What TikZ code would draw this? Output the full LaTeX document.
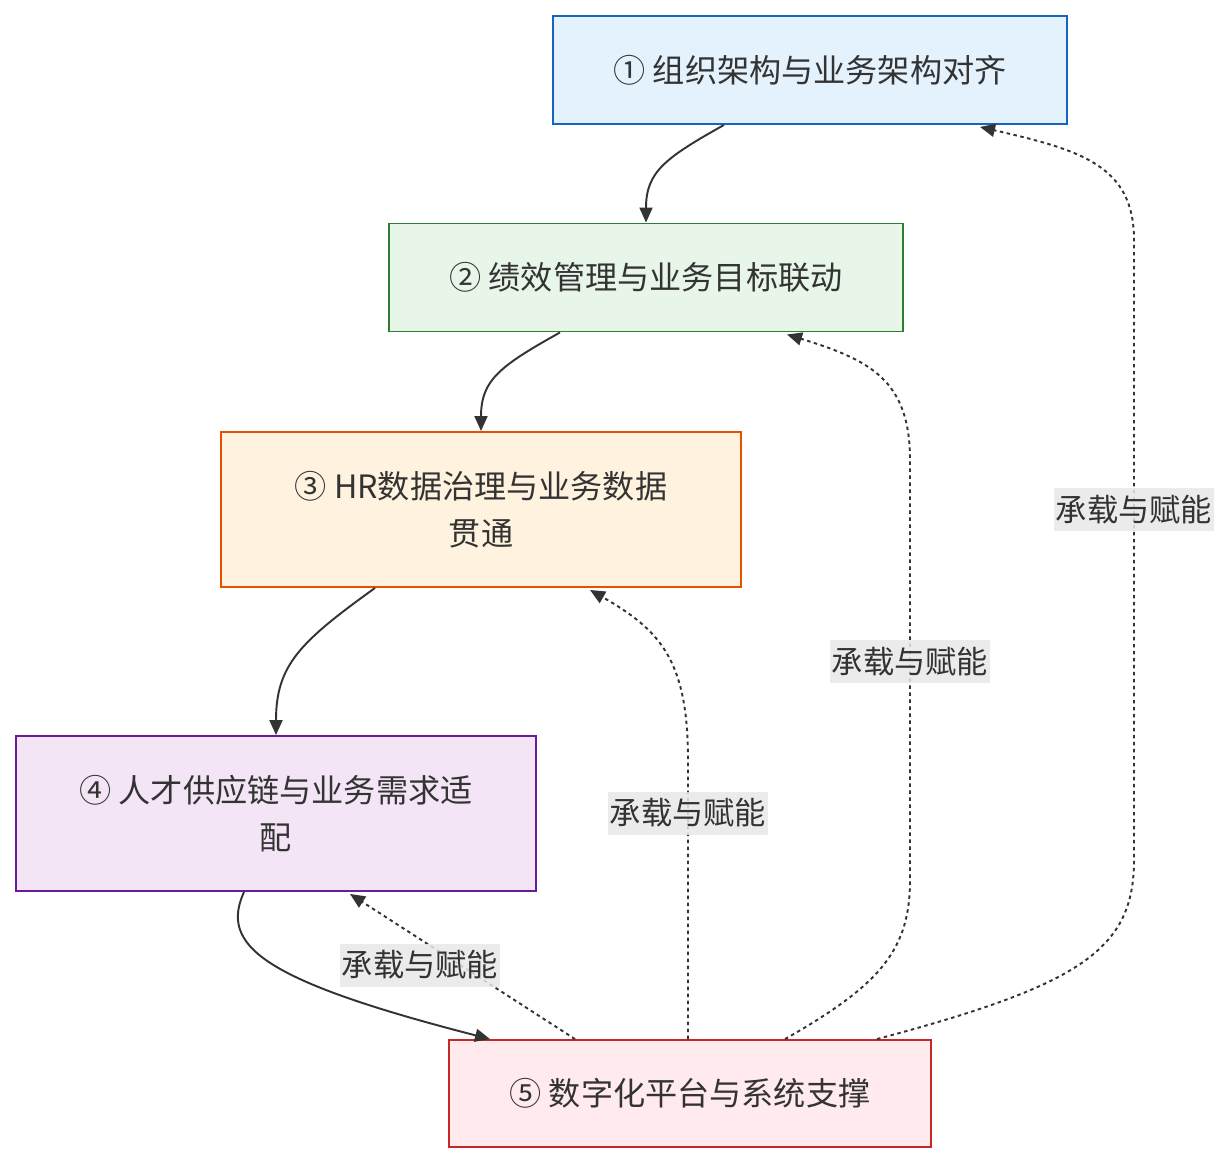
\documentclass[tikz,border=0pt]{standalone}
\usepackage{fontspec}
\setmainfont{Noto Sans CJK SC}
\usepackage{tikz}
\usetikzlibrary{positioning,arrows.meta,calc}
\definecolor{lineclr}{HTML}{333333}
\tikzset{
box/.style={
draw,
line width=1.1pt,
minimum width=10.28cm,
minimum height=2.16cm,
align=center,
text=lineclr,
font=\fontsize{18.3}{26.7}\selectfont
},
arrow/.style={
-{Triangle[length=0.3cm,width=0.26cm]},
line width=1.1pt,
draw=lineclr
},
dasharrow/.style={
arrow,
dash pattern=on 0.07cm off 0.07cm
},
lbl/.style={
fill=black!9,
fill opacity=0.85,
text opacity=1,
text=lineclr,
inner xsep=1pt,
minimum height=0.86cm,
font=\fontsize{17.8}{20}\selectfont
}
}

\begin{document}
\begin{tikzpicture}[x=0.02cm,y=-0.02cm]
\useasboundingbox (0,0) rectangle (1230,1164);
\node[box,fill={rgb,255:red,227;green,242;blue,253},draw={rgb,255:red,21;green,101;blue,192}](a) at (810,70){① 组织架构与业务架构对齐};
\node[box,fill={rgb,255:red,232;green,245;blue,233},draw={rgb,255:red,46;green,125;blue,50}](b) at (646,277.5){② 绩效管理与业务目标联动};
\node[box,minimum width=10.4cm,minimum height=3.1cm,fill={rgb,255:red,255;green,243;blue,224},draw={rgb,255:red,230;green,81;blue,0}](c) at (481,509.5){③ HR数据治理与业务数据\\贯通};
\node[box,minimum width=10.4cm,minimum height=3.1cm,fill={rgb,255:red,243;green,229;blue,245},draw={rgb,255:red,106;green,27;blue,154}](d) at (276,813.5){④ 人才供应链与业务需求适\\配};
\node[box,minimum width=9.64cm,minimum height=2.14cm,fill={rgb,255:red,255;green,235;blue,238},draw={rgb,255:red,198;green,40;blue,40}](e) at (690,1093.5){⑤ 数字化平台与系统支撑};

% main chain
\draw[arrow]($(a.south)+(-86,0)$) .. controls (665,158) and (646,172) .. (b.north);
\draw[arrow]($(b.south)+(-86,0)$) .. controls (500,366) and (481,380) .. (c.north);
\draw[arrow]($(c.south)+(-106,0)$) .. controls (300,642) and (276,665) .. (d.north);
\draw[arrow]($(d.south)+(-32,0)$) .. controls (220,945) and (260,980) .. ($(e.north)+(-200,0)$);

% support links
\draw[dasharrow]($(e.north)+(-115,0)$) -- node[lbl,pos=0.6,xshift=-0.4cm,yshift=-0.26cm]{承载与赋能} ($(d.south)+(74,2)$);
\draw[dasharrow]($(e.north)+(-2,0)$) -- (688,760) .. controls (688,660) and (660,630) .. ($(c.south)+(109,2)$);
\path ($(e.north)+(-2,0)$) -- node[lbl,pos=0.81]{承载与赋能} (688,760);
\draw[dasharrow]($(e.north)+(95,0)$) .. controls (880,985) and (910,950) .. (910,880) -- (910,460) .. controls (910,380) and (870,360) .. ($(b.south)+(141,2)$);
\path (910,880) -- node[lbl,pos=0.52]{承载与赋能} (910,460);
\draw[dasharrow]($(e.north)+(187,0)$) .. controls (1080,985) and (1134,950) .. (1134,860) -- (1134,240) .. controls (1134,165) and (1080,150) .. ($(a.south)+(170,2)$);
\path (1134,860) -- node[lbl,pos=0.565]{承载与赋能} (1134,240);
\end{tikzpicture}
\end{document}
